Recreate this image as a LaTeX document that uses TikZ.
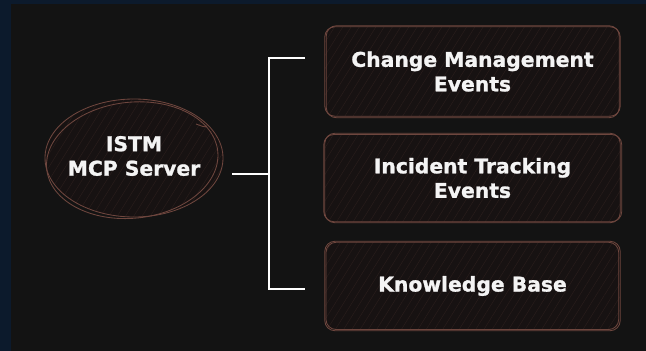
\documentclass[tikz,border=0pt]{standalone}
\usepackage{fontspec}
\setmainfont{DejaVu Sans}
\newfontfamily\lblfont{DejaVu Sans Bold}[FakeBold=1.2]
\usetikzlibrary{shapes.geometric,patterns.meta}
\definecolor{navy}{HTML}{0C1A2C}
\definecolor{bg}{HTML}{131313}
\definecolor{boxfill}{HTML}{171212}
\definecolor{hatch}{HTML}{2A1E1C}
\definecolor{sketch}{HTML}{6E463E}
\definecolor{txt}{HTML}{F4F4F4}
\tikzset{
  labeltext/.style={text=txt, font=\lblfont\fontsize{20.3}{24.5}\selectfont, align=center},
  boxnode/.style={labeltext, minimum width=295pt, minimum height=89pt, inner sep=0pt},
  ellnode/.style={labeltext, ellipse, minimum width=178pt, minimum height=118pt, inner sep=0pt},
  hatchfill/.style={preaction={fill=boxfill}, pattern={Lines[angle=58,distance=7pt,line width=0.45pt]}, pattern color=hatch},
  sk/.style={draw=sketch, line width=0.85pt, rounded corners=10pt},
  conn/.style={draw=white, line width=2.8pt, line join=miter},
}
\begin{document}
\begin{tikzpicture}[x=1pt,y=-1pt]
\useasboundingbox (0,0) rectangle (646,351);
\fill[navy] (0,0) rectangle (646,351);
\fill[bg] (11,3.5) rectangle (646,351);

% shapes (sketch style, drawn before nodes)
\path[hatchfill, rounded corners=10pt] (325,27) rectangle (620,116);
\path[hatchfill, rounded corners=10pt] (325,134) rectangle (620,222);
\path[hatchfill, rounded corners=10pt] (325,242) rectangle (620,330);
\path[hatchfill] (134,158) ellipse [x radius=89, y radius=59];

\node[boxnode] (cm) at (472.5,71.5) {Change Management\\Events};
\node[boxnode] (it) at (472.5,178) {Incident Tracking\\Events};
\node[boxnode] (kb) at (472.5,286) {Knowledge Base};
\node[ellnode] (srv) at (134,156) {ISTM\\MCP Server};

% rough double strokes
\draw[sk] (cm.north west) rectangle (cm.south east);
\draw[sk] ([shift={(1.5,-1)}]cm.north west) rectangle ([shift={(-1,1.5)}]cm.south east);
\draw[sk] (it.north west) rectangle (it.south east);
\draw[sk] ([shift={(-1,1.2)}]it.north west) rectangle ([shift={(1.5,-1)}]it.south east);
\draw[sk] (kb.north west) rectangle (kb.south east);
\draw[sk] ([shift={(1.2,1)}]kb.north west) rectangle ([shift={(-1.5,-1.2)}]kb.south east);
\draw[draw=sketch, line width=0.85pt] (134,158) ellipse [x radius=89, y radius=59];
\draw[draw=sketch, line width=0.85pt, rotate around={6:(134,158)}] (132,160) ellipse [x radius=86, y radius=58];
\draw[draw=sketch, line width=0.85pt] (196,124) .. controls (202,126) and (205,128) .. (207,126);

% connectors
\coordinate (a) at (232,174);
\coordinate (b) at (269,174);
\coordinate (tt) at (305,58);
\coordinate (bb) at (305,289);
\draw[conn] (tt) -| (b) |- (bb);
\draw[conn] (a) -- (b);
\end{tikzpicture}
\end{document}
